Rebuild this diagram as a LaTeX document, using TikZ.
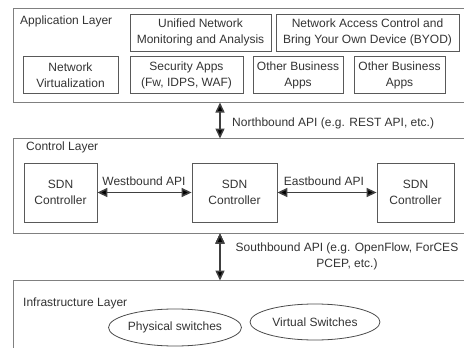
\documentclass[tikz,border=0pt]{standalone}
\usepackage{fontspec}
\setmainfont{Liberation Sans}
\usetikzlibrary{arrows.meta}
\usetikzlibrary{positioning}
\usetikzlibrary{shapes.geometric}

\begin{document}
\begin{tikzpicture}[x=1pt, y=-1pt,
                every node/.style = {font=\fontsize{12}{16}\selectfont, text=black!80,
                                     inner sep=0pt, align=center},
                layerbox/.style = {draw=black!50, line width=1.1pt, anchor=north west,
                                   minimum width=480pt},
                layername/.style = {anchor=west},
                appbox/.style = {draw=black!65, line width=0.8pt, minimum height=37pt},
                sdnbox/.style = {draw=black!65, line width=0.8pt, minimum height=59pt},
                switch/.style = {ellipse, draw=black!70, line width=0.8pt},
                api/.style = {{Triangle[length=10pt, width=9pt]}-{Triangle[length=10pt, width=9pt]},
                              draw=black!75, line width=1.5pt}]
            \clip (0,0) rectangle (464,348);

            % layers
            \node[layerbox, minimum height=94pt] (l_app) at (13,8) {};
            \node[layerbox, minimum height=95pt] (l_ctrl) at (13,138) {};
            \node[layerbox, minimum height=90pt] (l_infra) at (13,280) {};
            \node[layername] (l_app_name) at (20,21) {Application Layer};
            \node[layername] (l_ctrl_name) at (26,147) {Control Layer};
            \node[layername] (l_infra_name) at (23,303) {Infrastructure Layer};

            % application layer
            \node[appbox, minimum width=141pt] (q_unified) at (200.5,32.5) {Unified Network \\ Monitoring and Analysis};
            \node[appbox, minimum width=183pt] (q_byod) at (367.5,32.5) {Network Access Control and \\ Bring Your Own Device (BYOD)};
            \node[appbox, minimum width=95pt] (q_netvirt) at (70.5,75) {Network \\ Virtualization};
            \node[appbox, minimum width=113pt] (q_security) at (186.5,75) {Security Apps \\ (Fw, IDPS, WAF)};
            \node[appbox, minimum width=90pt] (q_business_a) at (298,75) {Other Business \\ Apps};
            \node[appbox, minimum width=91pt] (q_business_b) at (399.5,75) {Other Business \\ Apps};

            % control layer
            \node[sdnbox, minimum width=73pt] (q_sdn_west) at (60.5,192.5) {SDN \\ Controller};
            \node[sdnbox, minimum width=85pt] (q_sdn_mid) at (234.5,192.5) {SDN \\ Controller};
            \node[sdnbox, minimum width=77pt] (q_sdn_east) at (415.5,192.5) {SDN \\ Controller};
            \node (q_westbound) at (144,181) {Westbound API};
            \node (q_eastbound) at (324,181) {Eastbound API};

            % infrastructure layer
            \node[switch, minimum width=126pt, minimum height=37pt] (q_physical) at (175,327.5) {Physical switches};
            \node[switch, minimum width=130pt, minimum height=36pt] (q_virtual) at (315,322) {Virtual Switches};

            % northbound and southbound
            \coordinate (nb_top) at (220,102.5);
            \coordinate (nb_bottom) at (220,138.5);
            \coordinate (sb_top) at (220,233.5);
            \coordinate (sb_bottom) at (220,280.5);
            \node[anchor=west] (q_northbound) at (232,123) {Northbound API (e.g. REST API, etc.)};
            \node (q_southbound) at (347,256) {Southbound API (e.g. OpenFlow, ForCES \\ PCEP, etc.)};

            \path[api]
            (q_sdn_west)   edge (q_sdn_mid)
            (q_sdn_mid)    edge (q_sdn_east)
            (nb_top)       edge (nb_bottom)
            (sb_top)       edge (sb_bottom);
        \end{tikzpicture}
\end{document}
